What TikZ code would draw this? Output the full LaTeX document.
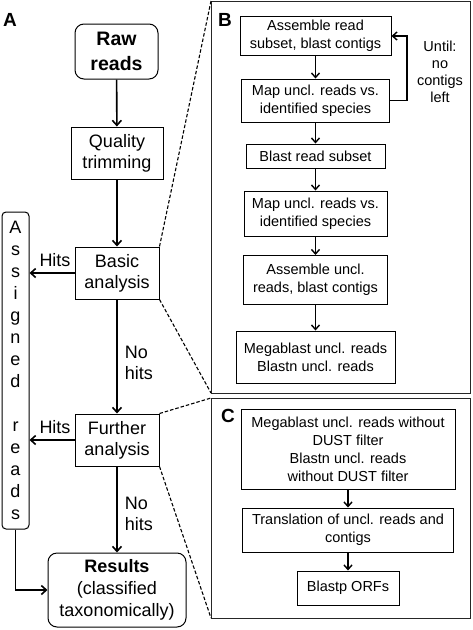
\documentclass[tikz,border=0pt]{standalone}
\usepackage{fontspec}
\setmainfont{Liberation Sans}
\usetikzlibrary{arrows.meta}

\begin{document}
\begin{tikzpicture}[x=1pt,y=-1pt,
    box/.style={draw,line width=1pt,align=center,inner sep=0pt,font=\fontsize{18}{21}\selectfont},
    rbox/.style={box,rounded corners=9pt},
    sbox/.style={draw,line width=1pt,align=center,inner sep=0pt,font=\fontsize{14.5}{18}\selectfont},
    lbl/.style={inner sep=0pt,align=left,font=\fontsize{18}{21}\selectfont},
    arr/.style={line width=1.6pt,-{Straight Barb[length=5pt,width=9pt]}},
    sarr/.style={line width=1.4pt,-{Straight Barb[length=4.5pt,width=8pt]}},
    zoomline/.style={dash pattern=on 3.5pt off 2pt,line width=1.1pt}]
        \useasboundingbox (0,0) rectangle (472,630);

        % panel A
        \node[font=\fontsize{19}{19}\selectfont\bfseries] (LA) at (10,20) {A};
        \node[rbox,minimum width=83pt,minimum height=55pt,font=\fontsize{19.5}{25}\selectfont\bfseries] (R) at (116.5,51.5) {Raw\\reads};
        \node[box,minimum width=92pt,minimum height=52pt] (Q) at (117,153) {Quality\\trimming};
        \node[box,minimum width=84pt,minimum height=52pt] (BA) at (117,273) {Basic\\analysis};
        \node[box,minimum width=84pt,minimum height=52pt] (FA) at (117,440) {Further\\analysis};
        \node[rbox,minimum width=138pt,minimum height=74pt,font=\fontsize{18}{22}\selectfont] (RES) at (117,590) {\textbf{Results}\\(classified\\taxonomically)};
        \node[box,rounded corners=4pt,minimum width=27pt,minimum height=317pt,font=\fontsize{18}{22}\selectfont] (AS) at (15.5,370.5) {A\\s\\s\\i\\g\\n\\e\\d\\[22pt]r\\e\\a\\d\\s};

        \draw[arr] (R) -- (Q);
        \draw[arr] (Q) -- (BA);
        \draw[arr] (BA) -- node[lbl,right=7pt,yshift=-6pt]{No\\hits} (FA);
        \draw[arr] (FA) -- node[lbl,right=7pt,yshift=-4pt]{No\\hits} (RES);
        \draw[arr] (BA.west) -- node[lbl,above=6pt,xshift=3pt]{Hits} (BA.west -| AS.east);
        \draw[arr] (FA.west) -- node[lbl,above=6pt,xshift=3pt]{Hits} (FA.west -| AS.east);
        \draw[arr] (AS.south) |- (RES.west);

        % panels B and C
        \coordinate (B1) at (211,1);
        \coordinate (B2) at (470,393);
        \coordinate (C1) at (211,398);
        \coordinate (C2) at (470,618);
        \draw[line width=1pt,black!85] (B1) rectangle (B2);
        \draw[line width=1pt,black!85] (C1) rectangle (C2);
        \draw[zoomline] (BA.north east) -- (B1);
        \draw[zoomline] (BA.south east) -- (B1 |- B2);
        \draw[zoomline] (FA.north east) -- (C1);
        \draw[zoomline] (FA.south east) -- (C1 |- C2);

        % panel B
        \node[font=\fontsize{19}{19}\selectfont\bfseries] (LB) at (225,20) {B};
        \node[sbox,minimum width=151pt,minimum height=39pt] (S1) at (315.5,36) {Assemble read\\subset, blast contigs};
        \node[sbox,minimum width=148pt,minimum height=43pt] (S2) at (315.5,100.5) {Map uncl. reads vs.\\identified species};
        \node[sbox,minimum width=139pt,minimum height=24pt] (S3) at (315.5,156) {Blast read subset};
        \node[sbox,minimum width=143pt,minimum height=45pt] (S4) at (315.5,213.5) {Map uncl. reads vs.\\identified species};
        \node[sbox,minimum width=144pt,minimum height=49pt] (S5) at (315.5,280) {Assemble uncl.\\reads, blast contigs};
        \node[sbox,minimum width=159pt,minimum height=52pt] (S6) at (315.5,357) {Megablast uncl. reads\\Blastn uncl. reads};
        \node[align=center,font=\fontsize{14.5}{17}\selectfont] (U) at (440,72) {Until:\\no\\contigs\\left};
        \coordinate (L) at (407,36);

        \draw[sarr] (S1) -- (S2);
        \draw[sarr] (S2) -- (S3);
        \draw[sarr] (S3) -- (S4);
        \draw[sarr] (S4) -- (S5);
        \draw[sarr] (S5) -- (S6);
        \draw[sarr] (S2.east) -| (L) -- (S1.east);

        % panel C
        \node[font=\fontsize{19}{19}\selectfont\bfseries] (LC) at (228,416) {C};
        \node[sbox,minimum width=214pt,minimum height=80pt] (T1) at (348,449) {Megablast uncl. reads without\\DUST filter\\Blastn uncl. reads\\without DUST filter};
        \node[sbox,minimum width=211pt,minimum height=44pt] (T2) at (348,530) {Translation of uncl. reads and\\contigs};
        \node[sbox,minimum width=102pt,minimum height=34pt] (T3) at (348,588) {Blastp ORFs};

        \draw[sarr] (T1) -- (T2);
        \draw[sarr] (T2) -- (T3);
\end{tikzpicture}
\end{document}
